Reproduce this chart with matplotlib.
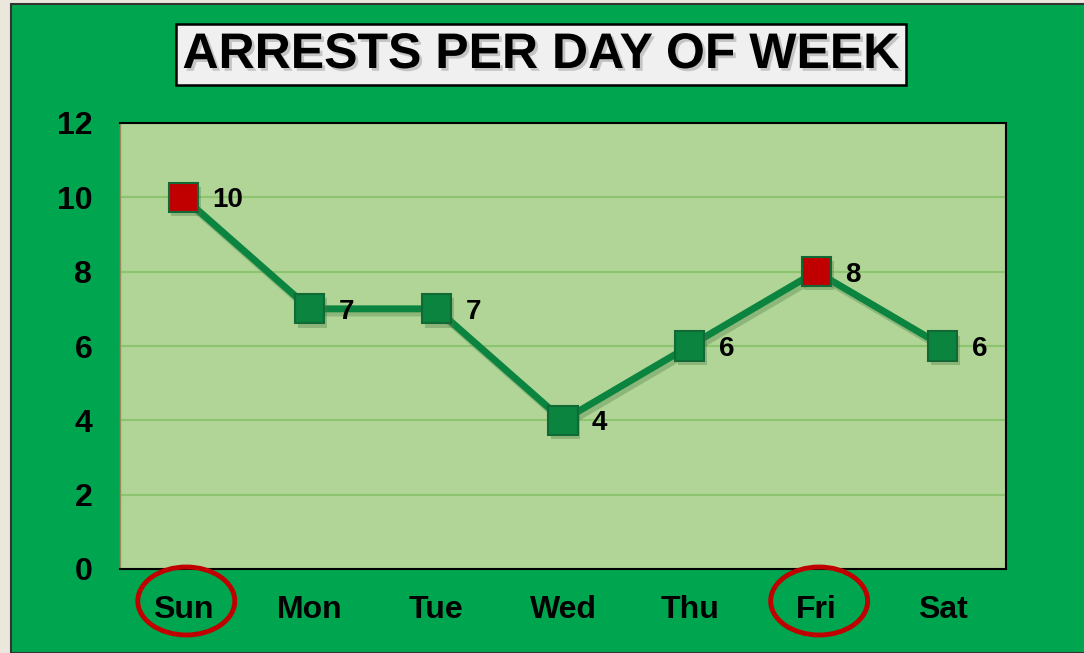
import matplotlib
matplotlib.use("Agg")
import matplotlib.pyplot as plt
import matplotlib.patheffects as pe
from matplotlib.patches import Rectangle, Ellipse

days = ["Sun", "Mon", "Tue", "Wed", "Thu", "Fri", "Sat"]
arrests = [10, 7, 7, 4, 6, 8, 6]
highlight = ["Sun", "Fri"]
yticks = [0, 2, 4, 6, 8, 10, 12]

plt.rcParams['font.family'] = ['Liberation Sans', 'DejaVu Sans']

W, H = 1084, 653
fig = plt.figure(figsize=(W / 100, H / 100), dpi=100, facecolor="#ebe7dc")

# green slide background with dark border
fig.patches.append(Rectangle((11 / W, 0), 1 - 11 / W + 0.01, 1 - 4 / H, transform=fig.transFigure,
                             facecolor="#00a64f", edgecolor="#333333", linewidth=1.5, zorder=-10))

# title box
fig.patches.append(Rectangle((176 / W, 1 - 85 / H), 730 / W, 61 / H, transform=fig.transFigure,
                             facecolor="#f0f0f0", edgecolor="black", linewidth=1.8, zorder=1))
fig.text(541 / W, 1 - 55 / H, "ARRESTS PER DAY OF WEEK", ha="center", va="center",
         fontsize=36, fontweight="bold", color="black", zorder=2,
         path_effects=[pe.withSimplePatchShadow(offset=(2, -2), shadow_rgbFace="#999999", alpha=0.5)])

ax = fig.add_axes([120 / W, 1 - 569 / H, 886 / W, 446 / H])
ax.set_zorder(2)
ax.set_facecolor("#b0d596")
x = list(range(len(days)))

ax.plot(x, arrests, color="#0a843e", linewidth=5, zorder=3,
        path_effects=[pe.SimpleLineShadow(offset=(2, -3), shadow_color="#5a8a50", alpha=0.4), pe.Normal()])
for i, (d, v) in enumerate(zip(days, arrests)):
    fc = "#c00000" if d in highlight else "#0a843e"
    ax.plot(i, v, marker="s", markersize=21, markerfacecolor=fc, markeredgecolor="#116a35",
            markeredgewidth=1.5, zorder=4,
            path_effects=[pe.SimplePatchShadow(offset=(2, -3), shadow_rgbFace="#4f7a45", alpha=0.35), pe.Normal()])
    ax.annotate(str(v), (i, v), xytext=(29, 0), textcoords="offset pixels", ha="left",
                va="center_baseline", fontsize=20, fontweight="bold", color="black", zorder=5)

ax.set_xlim(-0.5, len(days) - 0.5)
ax.set_ylim(0, 12)
ax.set_yticks(yticks)
ax.set_xticks(x)
ax.set_xticklabels(days)
ax.yaxis.grid(True, color="#8cc470", linewidth=1.5)
ax.set_axisbelow(True)
ax.tick_params(axis="y", length=0, pad=20, labelsize=23)
ax.tick_params(axis="x", length=0, pad=19, labelsize=23)
for lab in ax.get_xticklabels() + ax.get_yticklabels():
    lab.set_fontweight("bold")
for s in ["top", "right", "bottom"]:
    ax.spines[s].set_color("black")
    ax.spines[s].set_linewidth(1.5)
ax.spines["left"].set_color("#9a8a60")
ax.spines["left"].set_linewidth(1)

# red circles around the highlighted days
for d in highlight:
    i = days.index(d)
    xd = (120 + (i + 0.5) * 886 / 7) / W
    fig.patches.append(Ellipse((xd + 3 / W, 1 - 601 / H), 97 / W, 68 / H, transform=fig.transFigure,
                               fill=False, edgecolor="#c00000", linewidth=3.5, zorder=5))

fig.savefig("out.png", dpi=100, facecolor=fig.get_facecolor())
